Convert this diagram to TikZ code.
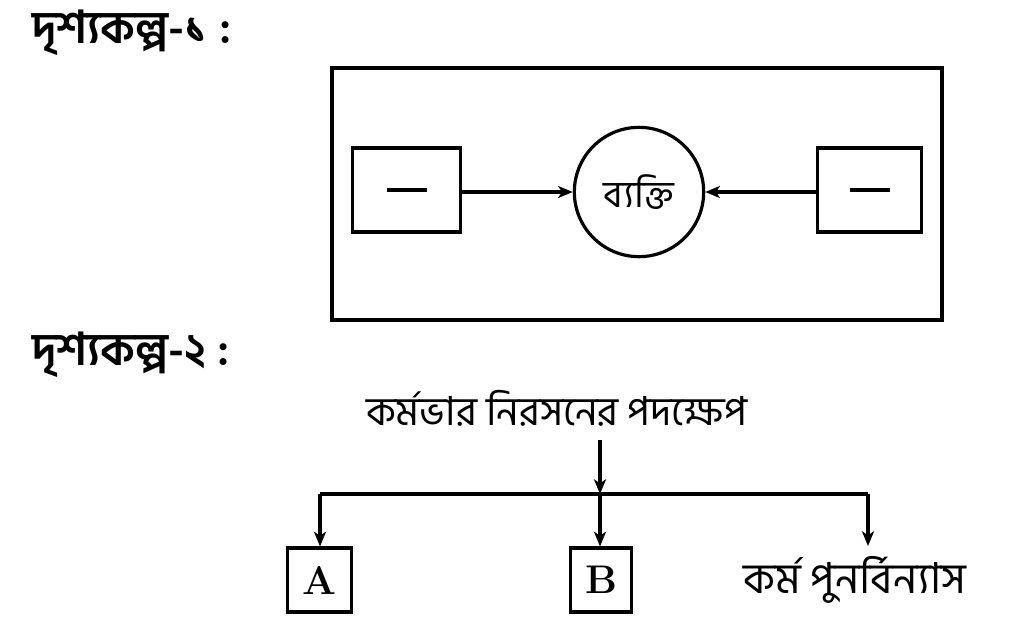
\documentclass[tikz,border=0pt]{standalone}
\usepackage{fontspec}
\usepackage{tikz}
\usetikzlibrary{arrows.meta}
\newfontfamily\bn[Script=Bengali]{Hind Siliguri}

\begin{document}
\begin{tikzpicture}[x=0.75pt,y=0.75pt,yscale=-1,xscale=1,line width=2.4pt,
  arr/.style={-{Stealth[length=11pt,width=9pt,inset=3pt]}}]
\useasboundingbox (0,0) rectangle (1027,622);

% Text Node
\node (title1) at (30,33) [anchor=west,inner sep=0.75pt] {\bn\bfseries\fontsize{34}{36}\selectfont দৃশ্যকল্প-১ :};
% Text Node
\node (title2) at (30,355) [anchor=west,inner sep=0.75pt] {\bn\bfseries\fontsize{34}{36}\selectfont দৃশ্যকল্প-২ :};

% Frame
\node (frame) at (637,194) [draw,minimum width=457.5pt,minimum height=189pt,inner sep=0pt] {};
% Shape: Box
\node (boxl) at (406.5,190) [draw,minimum width=81pt,minimum height=63pt,inner sep=0pt] {\rule[-1.2pt]{30pt}{2.4pt}};
% Shape: Box
\node (boxr) at (869.5,190) [draw,minimum width=78pt,minimum height=63pt,inner sep=0pt] {\rule[-1.2pt]{30pt}{2.4pt}};
% Shape: Circle
\node (person) at (639,192) [draw,circle,minimum size=97pt,inner sep=0pt] {\bn\fontsize{28}{30}\selectfont ব্যক্তি};

% Text Node
\node (steps) at (557,408) [inner sep=0.75pt] {\bn\fontsize{30}{32}\selectfont কর্মভার নিরসনের পদক্ষেপ};
% Shape: Box
\node (boxa) at (319.5,580) [draw,minimum width=48pt,minimum height=48pt,inner sep=0pt] {\fontsize{30}{32}\selectfont\bfseries A};
% Shape: Box
\node (boxb) at (601,580) [draw,minimum width=46pt,minimum height=48pt,inner sep=0pt] {\fontsize{30}{32}\selectfont\bfseries B};
% Text Node
\node (redesign) at (855,580) [inner sep=0.75pt] {\bn\fontsize{32}{34}\selectfont কর্ম পুনর্বিন্যাস};

\coordinate (jl) at (320,494);
\coordinate (jm) at (600,494);
\coordinate (jr) at (868,494);
\coordinate (top) at (600,440);

% Connection
\draw [arr] (boxl.east |- person) -- (person.west);
% Connection
\draw [arr] (boxr.west |- person) -- (person.east);
% Connection
\draw [arr] (top) -- (jm);
% Connection
\draw (jl) -- (jr);
% Connection
\draw [arr] (jm) -- (jm |- boxb.north);
% Connection
\draw [arr] (jl) -- (jl |- boxa.north);
% Connection
\draw [arr] (jr) -- (868,546);

\end{tikzpicture}
\end{document}
